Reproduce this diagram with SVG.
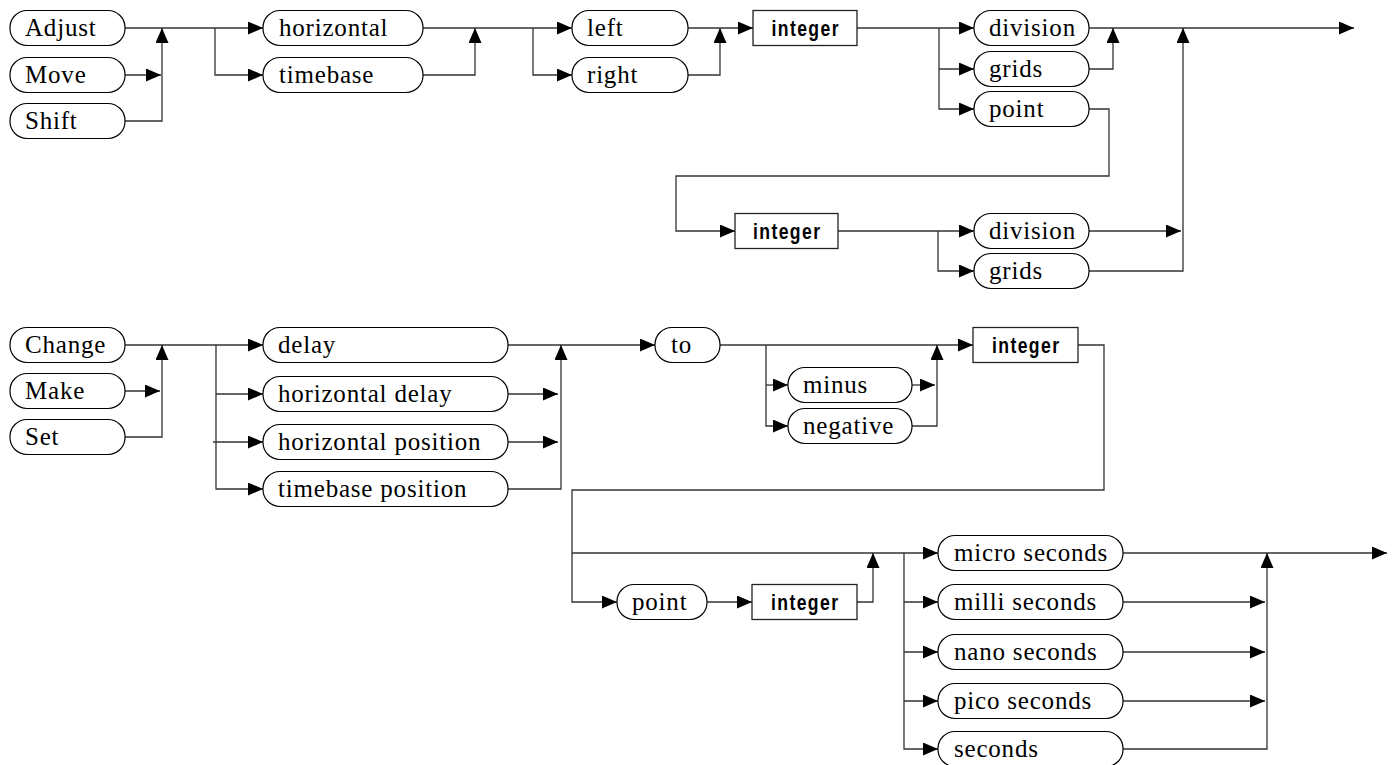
<svg xmlns="http://www.w3.org/2000/svg" width="1398" height="765" viewBox="0 0 1398 765">
<style>
.p{fill:#fff;stroke:#000;stroke-width:1.2}
.b{fill:#fff;stroke:#222;stroke-width:1.3}
.t{font-family:"Liberation Serif","Times New Roman",serif;font-size:25px;letter-spacing:0.8px;fill:#000}
.k{font-family:"Liberation Sans Narrow","Liberation Sans",Arial,sans-serif;font-weight:bold;font-size:22px;fill:#000;text-anchor:middle}
#connectors path{fill:none;stroke:#333;stroke-width:1.3}
#connectors path.a{marker-end:url(#arr)}
</style>
<defs>
<marker id="arr" viewBox="0 0 15 13" refX="15" refY="6.5" markerWidth="15" markerHeight="13" markerUnits="userSpaceOnUse" orient="auto"><path d="M0,0L15,6.5L0,13z" fill="#000"/></marker>
</defs>
<rect width="1398" height="765" fill="#fff"/>
<g id="connectors">
<path class="a" d="M125,28H263"/>
<path class="a" d="M125,75H161"/>
<path class="a" d="M125,121H162V28"/>
<path class="a" d="M215,28V75H263"/>
<path class="a" d="M423,28H572"/>
<path class="a" d="M423,75H475V28"/>
<path class="a" d="M533,28V75H572"/>
<path class="a" d="M688,28H753"/>
<path class="a" d="M688,75H720V28"/>
<path class="a" d="M857,28H974"/>
<path class="a" d="M939,28V109H974"/>
<path class="a" d="M939,69H974"/>
<path class="a" d="M1089,28H1354"/>
<path class="a" d="M1089,69H1113V28"/>
<path class="a" d="M1089,109H1109V176H676V231H735"/>
<path class="a" d="M838,231H974"/>
<path class="a" d="M938,231V271H974"/>
<path class="a" d="M1089,231H1181"/>
<path class="a" d="M1089,271H1183V28"/>
<path class="a" d="M125,345H263"/>
<path class="a" d="M125,391H160"/>
<path class="a" d="M125,437H162V345"/>
<path class="a" d="M216,345V489H263"/>
<path class="a" d="M216,394H263"/>
<path class="a" d="M213,442H263"/>
<path class="a" d="M508,345H655"/>
<path class="a" d="M508,394H558"/>
<path class="a" d="M508,442H558"/>
<path class="a" d="M508,489H561V345"/>
<path class="a" d="M720,345H973"/>
<path class="a" d="M766,345V426H788"/>
<path class="a" d="M766,385H788"/>
<path class="a" d="M912,385H935"/>
<path class="a" d="M912,426H937V345"/>
<path class="a" d="M1078,345H1104V490H572V602H617"/>
<path class="a" d="M572,553H938"/>
<path class="a" d="M707,602H752"/>
<path class="a" d="M857,602H873V553"/>
<path class="a" d="M904,553V749H938"/>
<path class="a" d="M904,602H938"/>
<path class="a" d="M904,652H938"/>
<path class="a" d="M904,701H938"/>
<path class="a" d="M1123,553H1387"/>
<path class="a" d="M1123,602H1265"/>
<path class="a" d="M1123,652H1265"/>
<path class="a" d="M1123,701H1265"/>
<path class="a" d="M1123,749H1267V553"/>
</g>
<g id="n_adjust"><rect class="p" x="10" y="10.5" width="115" height="35" rx="17"/><text class="t" x="25" y="36">Adjust</text></g>
<g id="n_move"><rect class="p" x="10" y="57.5" width="115" height="35" rx="17"/><text class="t" x="25" y="83">Move</text></g>
<g id="n_shift"><rect class="p" x="10" y="103.5" width="115" height="35" rx="17"/><text class="t" x="25" y="129">Shift</text></g>
<g id="n_horizontal"><rect class="p" x="263" y="10.5" width="160" height="35" rx="17"/><text class="t" x="279" y="36">horizontal</text></g>
<g id="n_timebase"><rect class="p" x="263" y="57.5" width="160" height="35" rx="17"/><text class="t" x="279" y="83">timebase</text></g>
<g id="n_left"><rect class="p" x="572" y="10.5" width="116" height="35" rx="17"/><text class="t" x="587" y="36">left</text></g>
<g id="n_right"><rect class="p" x="572" y="57.5" width="116" height="35" rx="17"/><text class="t" x="587" y="83">right</text></g>
<g id="n_integer1"><rect class="b" x="753" y="10.5" width="104" height="35"/><text class="k" transform="translate(805,36) scale(0.8,1)" textLength="84" lengthAdjust="spacing">integer</text></g>
<g id="n_division1"><rect class="p" x="974" y="10.5" width="115" height="35" rx="17"/><text class="t" x="989" y="36">division</text></g>
<g id="n_grids1"><rect class="p" x="974" y="51.5" width="115" height="35" rx="17"/><text class="t" x="989" y="77">grids</text></g>
<g id="n_point1"><rect class="p" x="974" y="91.5" width="115" height="35" rx="17"/><text class="t" x="989" y="117">point</text></g>
<g id="n_integer2"><rect class="b" x="735" y="213.5" width="103" height="35"/><text class="k" transform="translate(786.5,239) scale(0.8,1)" textLength="84" lengthAdjust="spacing">integer</text></g>
<g id="n_division2"><rect class="p" x="974" y="213.5" width="115" height="35" rx="17"/><text class="t" x="989" y="239">division</text></g>
<g id="n_grids2"><rect class="p" x="974" y="253.5" width="115" height="35" rx="17"/><text class="t" x="989" y="279">grids</text></g>
<g id="n_change"><rect class="p" x="10" y="327.5" width="115" height="35" rx="17"/><text class="t" x="25" y="353">Change</text></g>
<g id="n_make"><rect class="p" x="10" y="373.5" width="115" height="35" rx="17"/><text class="t" x="25" y="399">Make</text></g>
<g id="n_set"><rect class="p" x="10" y="419.5" width="115" height="35" rx="17"/><text class="t" x="25" y="445">Set</text></g>
<g id="n_delay"><rect class="p" x="263" y="327.5" width="245" height="35" rx="17"/><text class="t" x="278" y="353">delay</text></g>
<g id="n_hdelay"><rect class="p" x="263" y="376.5" width="245" height="35" rx="17"/><text class="t" x="278" y="402">horizontal delay</text></g>
<g id="n_hposition"><rect class="p" x="263" y="424.5" width="245" height="35" rx="17"/><text class="t" x="278" y="450">horizontal position</text></g>
<g id="n_tbposition"><rect class="p" x="263" y="471.5" width="245" height="35" rx="17"/><text class="t" x="278" y="497">timebase position</text></g>
<g id="n_to"><rect class="p" x="655" y="327.5" width="65" height="35" rx="17"/><text class="t" x="671" y="353">to</text></g>
<g id="n_minus"><rect class="p" x="788" y="367.5" width="124" height="35" rx="17"/><text class="t" x="803" y="393">minus</text></g>
<g id="n_negative"><rect class="p" x="788" y="408.5" width="124" height="35" rx="17"/><text class="t" x="803" y="434">negative</text></g>
<g id="n_integer3"><rect class="b" x="973" y="327.5" width="105" height="35"/><text class="k" transform="translate(1025.5,353) scale(0.8,1)" textLength="84" lengthAdjust="spacing">integer</text></g>
<g id="n_point2"><rect class="p" x="617" y="584.5" width="90" height="35" rx="17"/><text class="t" x="632" y="610">point</text></g>
<g id="n_integer4"><rect class="b" x="752" y="584.5" width="105" height="35"/><text class="k" transform="translate(804.5,610) scale(0.8,1)" textLength="84" lengthAdjust="spacing">integer</text></g>
<g id="n_micro"><rect class="p" x="938" y="535.5" width="185" height="35" rx="17"/><text class="t" x="954" y="561">micro seconds</text></g>
<g id="n_milli"><rect class="p" x="938" y="584.5" width="185" height="35" rx="17"/><text class="t" x="954" y="610">milli seconds</text></g>
<g id="n_nano"><rect class="p" x="938" y="634.5" width="185" height="35" rx="17"/><text class="t" x="954" y="660">nano seconds</text></g>
<g id="n_pico"><rect class="p" x="938" y="683.5" width="185" height="35" rx="17"/><text class="t" x="954" y="709">pico seconds</text></g>
<g id="n_seconds"><rect class="p" x="938" y="731.5" width="185" height="35" rx="17"/><text class="t" x="954" y="757">seconds</text></g>
</svg>
